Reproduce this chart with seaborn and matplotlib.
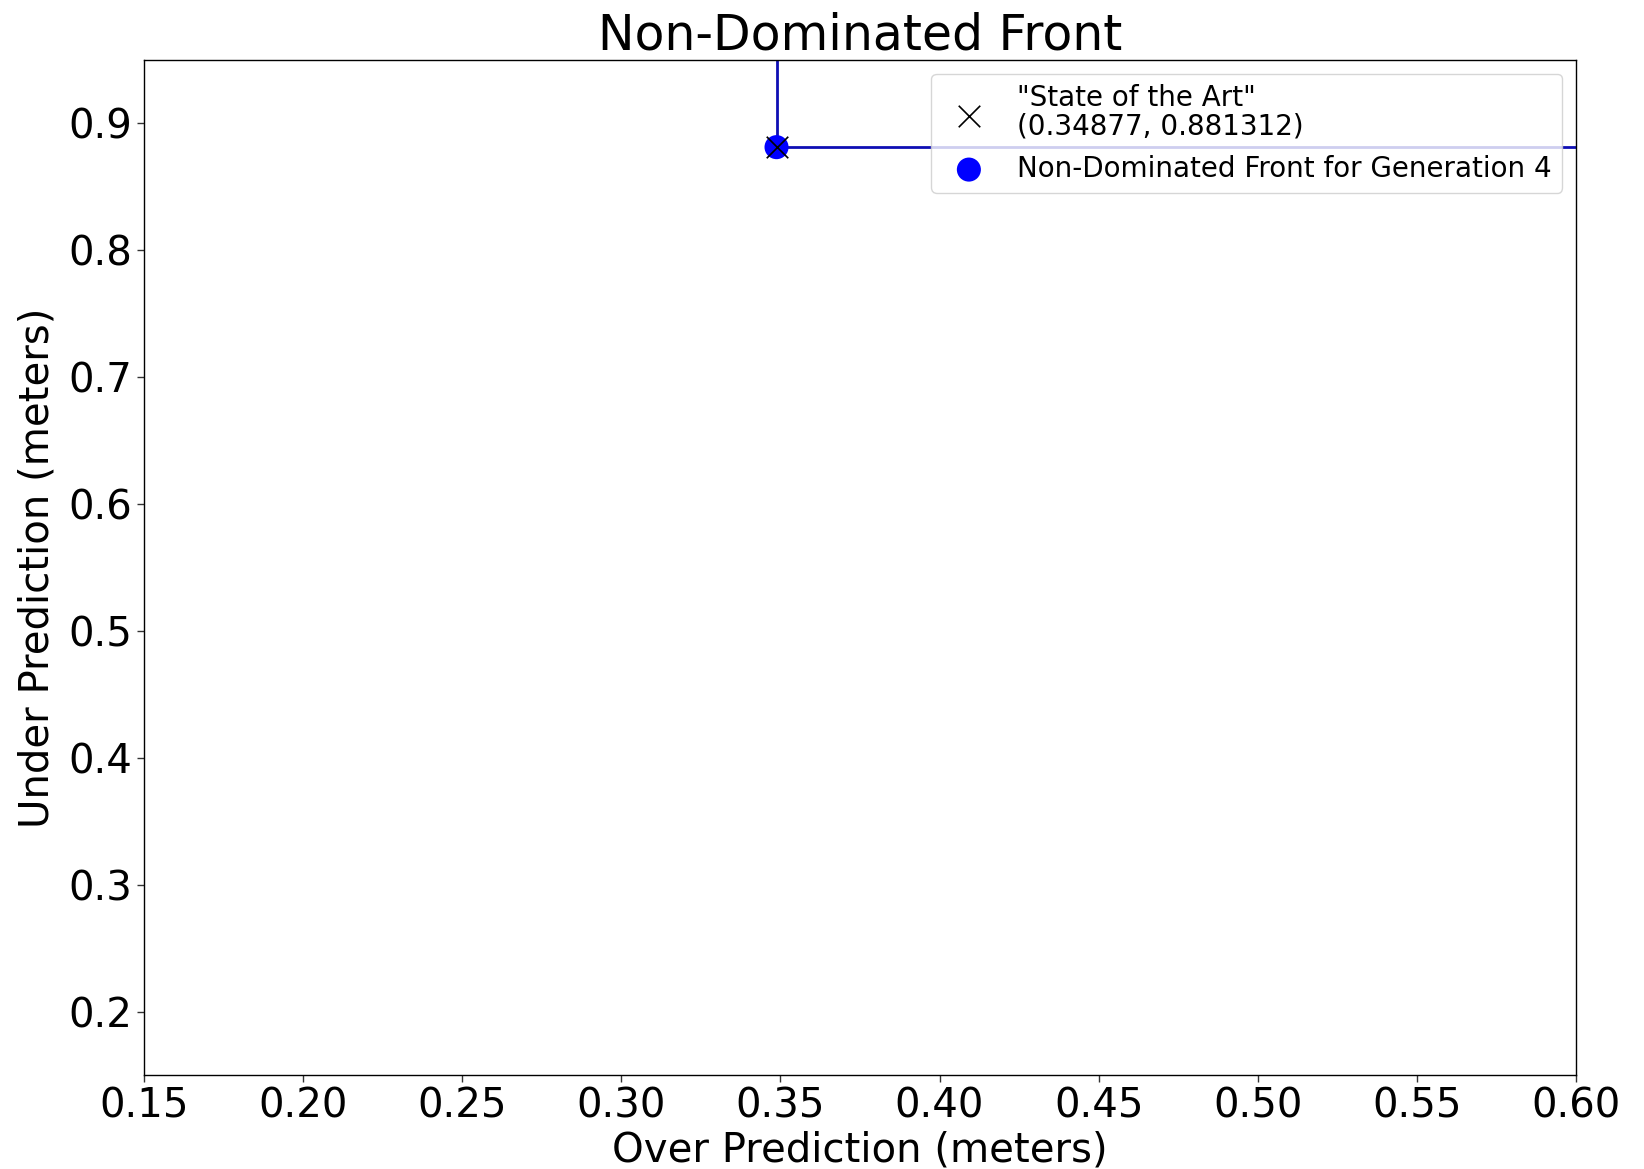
import matplotlib
matplotlib.use("Agg")
import matplotlib.pyplot as plt
import seaborn as sns
import pandas as pd

# Data
front_x = [0.34877]
front_y = [0.881312]
sota_x = [0.34877]
sota_y = [0.881312]
xlim = (0.15, 0.60)
ylim = (0.15, 0.95)
xticks = [0.15, 0.20, 0.25, 0.30, 0.35, 0.40, 0.45, 0.50, 0.55, 0.60]
yticks = [0.2, 0.3, 0.4, 0.5, 0.6, 0.7, 0.8, 0.9]

sns.set_style("ticks")
plt.rcParams['font.family'] = ['DejaVu Sans']
plt.rcParams.update({'text.color': 'black', 'axes.labelcolor': 'black',
                     'xtick.color': 'black', 'ytick.color': 'black'})

fig = plt.figure(figsize=(16.44, 11.69), dpi=100)
ax = fig.add_axes([144/1644, 1 - 1075/1169, (1576-144)/1644, (1075-60)/1169])

# Step line of the non-dominated front extending to the axes edges
step_x = [front_x[0], front_x[0]] + [xlim[1] + 1]
step_y = [ylim[1] + 1] + [front_y[0], front_y[0]]
ax.plot(step_x, step_y, color='#0e0eb4', lw=2, zorder=2)

df_front = pd.DataFrame({'x': front_x, 'y': front_y})
df_sota = pd.DataFrame({'x': sota_x, 'y': sota_y})

sns.scatterplot(data=df_front, x='x', y='y', ax=ax, color='blue', s=300,
                edgecolor='none', marker='o', zorder=3,
                label='Non-Dominated Front for Generation 4')
sns.scatterplot(data=df_sota, x='x', y='y', ax=ax, color='black', s=240,
                marker='x', linewidth=1.2, zorder=4,
                label='"State of the Art"\n(0.34877, 0.881312)')

ax.set_xlim(*xlim)
ax.set_ylim(*ylim)
ax.set_xticks(xticks)
ax.set_yticks(yticks)
ax.set_xticklabels([f"{t:.2f}" for t in xticks])
ax.set_yticklabels([f"{t:.1f}" for t in yticks])
ax.tick_params(labelsize=29, length=5, width=1, color='#333333')
for sp in ax.spines.values():
    sp.set_visible(True)
    sp.set_color('black')
    sp.set_linewidth(1)

ax.set_xlabel('Over Prediction (meters)', fontsize=29, labelpad=3)
ax.set_ylabel('Under Prediction (meters)', fontsize=29, labelpad=8)
ax.set_title('Non-Dominated Front', fontsize=35.2, pad=5)

handles, labels = ax.get_legend_handles_labels()
order = [1, 0]
leg = ax.legend([handles[i] for i in order], [labels[i] for i in order],
                loc='upper right', fontsize=20, framealpha=0.8,
                borderpad=0.36, handletextpad=0.75, labelspacing=0.5)
for t in leg.get_texts():
    t.set_linespacing(1.05)
leg.get_frame().set_edgecolor('#cccccc')

fig.savefig('out.png', dpi=100)
